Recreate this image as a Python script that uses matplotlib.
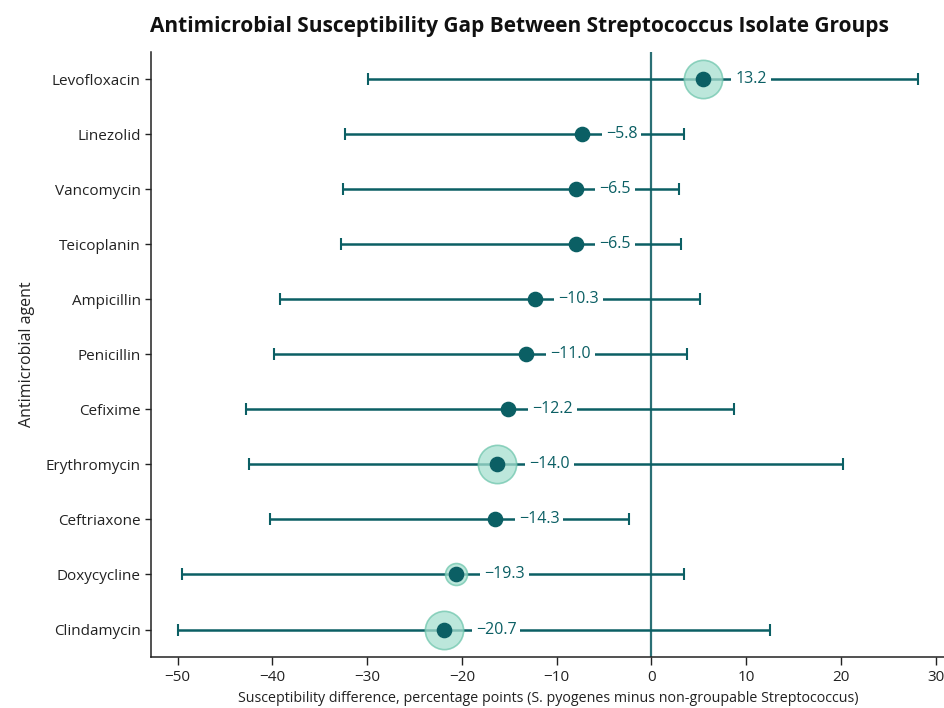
import numpy as np
import matplotlib
matplotlib.use("Agg")
import matplotlib.pyplot as plt

plt.rcParams['font.family'] = ['Open Sans', 'DejaVu Sans']

agents = ['Levofloxacin', 'Linezolid', 'Vancomycin', 'Teicoplanin', 'Ampicillin',
          'Penicillin', 'Cefixime', 'Erythromycin', 'Ceftriaxone', 'Doxycycline',
          'Clindamycin']
# plotted point estimate, CI bounds, printed label
point = [5.5, -7.3, -8.0, -8.0, -12.3, -13.2, -15.1, -16.3, -16.5, -20.6, -21.9]
ci_low = [-29.9, -32.3, -32.5, -32.8, -39.2, -39.8, -42.8, -42.5, -40.3, -49.6, -50.0]
ci_high = [28.1, 3.4, 2.9, 3.1, 5.1, 3.8, 8.7, 20.2, -2.4, 3.4, 12.5]
labels = ['13.2', '−5.8', '−6.5', '−6.5', '−10.3', '−11.0', '−12.2', '−14.0',
          '−14.3', '−19.3', '−20.7']
# halo size (0 = none)
halo = [2, 0, 0, 0, 0, 0, 0, 2, 0, 1, 2]

dark = '#0b5f64'
halo_fill = '#a6dfcf'
halo_edge = '#6fc6ad'

fig = plt.figure(figsize=(9.45, 7.08), dpi=100)
ax = fig.add_axes([0.16, 0.072, 0.84, 0.855])

y = np.arange(len(agents))
pt = np.array(point)
lo = pt - np.array(ci_low)
hi = np.array(ci_high) - pt

ax.axvline(0, color='#2b7075', lw=1.6, zorder=1)
ax.errorbar(pt, y, xerr=[lo, hi], fmt='none', ecolor=dark, elinewidth=1.8,
            capsize=4.5, capthick=1.5, zorder=2)

halo_sizes = {1: 250, 2: 760}
for i, h in enumerate(halo):
    if h:
        ax.scatter(pt[i], y[i], s=halo_sizes[h], color=halo_fill, alpha=0.75,
                   edgecolor=halo_edge, linewidth=1.2, zorder=3)
ax.scatter(pt, y, s=105, color=dark, zorder=4)

for i in range(len(agents)):
    off = 23 if halo[i] == 2 else (20 if halo[i] == 1 else 17)
    ax.annotate(labels[i], (pt[i], y[i]), xytext=(off, 0), textcoords='offset points',
                ha='left', va='center', fontsize=11.5, color=dark,
                bbox=dict(boxstyle='square,pad=0.25', fc='white', ec='none'),
                zorder=5)

ax.set_yticks(y)
ax.set_yticklabels(agents, fontsize=11)
ax.set_ylim(len(agents) - 0.5, -0.5)
ax.set_xlim(-52.8, 31)
ax.set_xticks([-50, -40, -30, -20, -10, 0, 10, 20, 30])
ax.set_xticklabels(['−50', '−40', '−30', '−20', '−10', '0', '10', '20', '30'], fontsize=11)
ax.tick_params(axis='x', length=6, width=1, colors='#222222')
ax.tick_params(axis='y', length=4, width=1, colors='#222222')

for s in ['top', 'right']:
    ax.spines[s].set_visible(False)
for s in ['left', 'bottom']:
    ax.spines[s].set_color('#222222')
    ax.spines[s].set_linewidth(1.1)

ax.set_xlabel('Susceptibility difference, percentage points (S. pyogenes minus non-groupable Streptococcus)',
              fontsize=10.3, color='#222222', labelpad=4)
ax.set_ylabel('Antimicrobial agent', fontsize=11.5, color='#222222', labelpad=8)
fig.text(0.55, 0.962, 'Antimicrobial Susceptibility Gap Between Streptococcus Isolate Groups',
         ha='center', va='center', fontsize=15, fontweight='bold', color='#111111')

fig.savefig('out.png', dpi=100)
